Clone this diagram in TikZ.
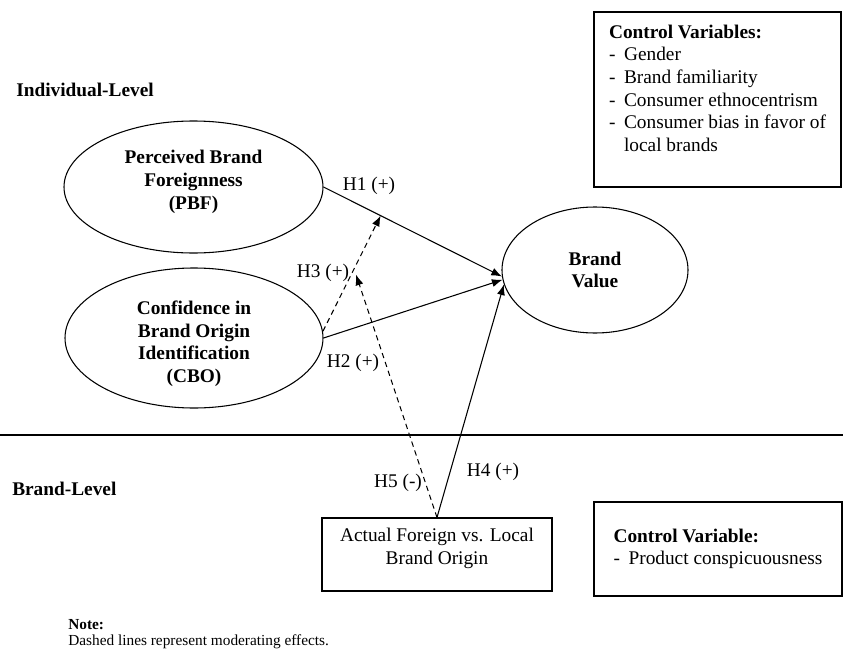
\documentclass[tikz,border=0pt]{standalone}
\usepackage{fontspec}
\setmainfont{Liberation Serif}
\usetikzlibrary{shapes.geometric,arrows.meta,calc}
\newdimen\pxunit \pxunit=0.75pt
\newcommand{\bodyfont}{\fontsize{14.5}{17}\selectfont}
\newcommand{\notefont}{\fontsize{11.5}{12.75}\selectfont}
\newcommand{\cvdash}{\makebox[11.25pt][l]{-}}
\tikzset{
  construct/.style={draw, ellipse, line width=0.8pt, inner sep=0pt, align=center, font=\bodyfont\bfseries},
  varbox/.style={draw, rectangle, line width=0.8pt, inner sep=0pt},
  level/.style={anchor=west, inner sep=0pt, font=\bodyfont\bfseries},
  effect/.style={line width=0.8pt, -{Latex[length=8pt,width=6pt]}},
  moderator/.style={effect, dash pattern=on 4pt off 3pt},
}

\begin{document}
\begin{tikzpicture}[x=0.75pt, y=-0.75pt, font=\bodyfont]
\useasboundingbox (0,0) rectangle (843,653);

\node[level] (indiv) at (16,90) {Individual-Level};
\node[level] (brandlvl) at (12,489) {Brand-Level};

\node[construct, minimum width=259\pxunit, minimum height=132\pxunit, text depth=11pt] (pbf) at (193.5,187) {Perceived Brand\\Foreignness\\(PBF)};
\node[construct, minimum width=258\pxunit, minimum height=140\pxunit, text height=70pt] (cbo) at (194,338) {Confidence in\\Brand Origin\\Identification\\(CBO)};
\node[construct, minimum width=186\pxunit, minimum height=126\pxunit] (bv) at (595,270) {Brand\\Value};

\node[varbox, minimum width=230\pxunit, minimum height=73\pxunit, align=center, text depth=12pt] (act) at (437,554.5) {Actual Foreign vs. Local\\Brand Origin};
\node[varbox, minimum width=247\pxunit, minimum height=175\pxunit, align=left] (ctrl) at (717.5,99.5) {\textbf{Control Variables:}\\\cvdash Gender\\\cvdash Brand familiarity\\\cvdash Consumer ethnocentrism\\\cvdash Consumer bias in favor of\\\hspace*{11.25pt}local brands\\~};
\node[varbox, minimum width=248\pxunit, minimum height=94\pxunit, align=left] (ctrlb) at (718,549) {\textbf{Control Variable:}\\\cvdash Product conspicuousness};

\draw[line width=0.8pt] (0,435) -- (843,435);

\draw[effect] (pbf.east) -- (bv.184);
\draw[effect] (cbo.east) -- (bv.186);
\draw[effect] (act.north) -- (bv.189);
\coordinate (m1) at ($(pbf.east)!0.32!(bv.184)$);
\draw[moderator] (cbo.3) -- (m1);
\coordinate (m2) at ($(cbo.3)!0.54!(m1)$);
\draw[moderator, shorten >=4.5pt] (act.north) -- (m2);

\node (h1) at (369,186) {H1 (+)};
\node (h3) at (323,273) {H3 (+)};
\node (h2) at (353,363) {H2 (+)};
\node (h5) at (398,483) {H5 (-)};
\node (h4) at (493,472) {H4 (+)};

\node[anchor=west, inner sep=0pt, font=\notefont\bfseries] (note) at (68,625) {Note:};
\node[anchor=west, inner sep=0pt, font=\notefont] (notetxt) at (68,642) {Dashed lines represent moderating effects.};
\end{tikzpicture}
\end{document}
